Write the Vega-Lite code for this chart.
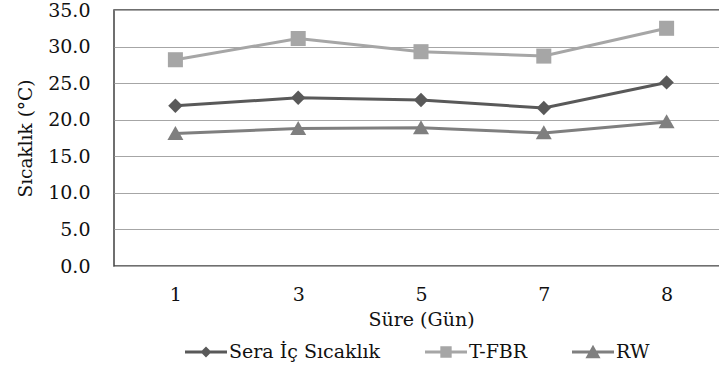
{
  "$schema": "https://vega.github.io/schema/vega-lite/v6.json",
  "width": 614,
  "height": 256,
  "autosize": {"type": "none"},
  "padding": {"left": 114, "top": 10, "right": -9, "bottom": 106},
  "background": "white",
  "config": {
    "font": "DejaVu Serif",
    "view": {"stroke": "#404040", "strokeWidth": 1.5}
  },
  "data": {
    "values": [
      {"gun": "1", "seri": "Sera İç Sıcaklık", "sicaklik": 21.9},
      {"gun": "3", "seri": "Sera İç Sıcaklık", "sicaklik": 23.0},
      {"gun": "5", "seri": "Sera İç Sıcaklık", "sicaklik": 22.7},
      {"gun": "7", "seri": "Sera İç Sıcaklık", "sicaklik": 21.6},
      {"gun": "8", "seri": "Sera İç Sıcaklık", "sicaklik": 25.1},
      {"gun": "1", "seri": "T-FBR", "sicaklik": 28.2},
      {"gun": "3", "seri": "T-FBR", "sicaklik": 31.1},
      {"gun": "5", "seri": "T-FBR", "sicaklik": 29.3},
      {"gun": "7", "seri": "T-FBR", "sicaklik": 28.7},
      {"gun": "8", "seri": "T-FBR", "sicaklik": 32.5},
      {"gun": "1", "seri": "RW", "sicaklik": 18.1},
      {"gun": "3", "seri": "RW", "sicaklik": 18.8},
      {"gun": "5", "seri": "RW", "sicaklik": 18.9},
      {"gun": "7", "seri": "RW", "sicaklik": 18.2},
      {"gun": "8", "seri": "RW", "sicaklik": 19.7}
    ]
  },
  "encoding": {
    "x": {
      "field": "gun",
      "type": "ordinal",
      "sort": ["1", "3", "5", "7", "8"],
      "scale": {"padding": 0.5},
      "axis": {
        "title": "Süre (Gün)",
        "labelAngle": 0,
        "ticks": false,
        "domain": false,
        "labelFontSize": 19,
        "labelPadding": 19,
        "labelColor": "#111111",
        "titleFontSize": 19,
        "titleFontWeight": "normal",
        "titleColor": "#111111",
        "titlePadding": 6
      }
    },
    "y": {
      "field": "sicaklik",
      "type": "quantitative",
      "scale": {"domain": [0, 35]},
      "axis": {
        "title": "Sıcaklık (°C)",
        "values": [0, 5, 10, 15, 20, 25, 30, 35],
        "format": ".1f",
        "ticks": false,
        "domain": false,
        "gridColor": "#a6a6a6",
        "gridWidth": 1,
        "labelFontSize": 19,
        "labelPadding": 24,
        "labelColor": "#111111",
        "titleFontSize": 18.5,
        "titleFontWeight": "normal",
        "titleColor": "#111111",
        "titlePadding": 12
      }
    },
    "color": {
      "field": "seri",
      "type": "nominal",
      "scale": {
        "domain": ["Sera İç Sıcaklık", "T-FBR", "RW"],
        "range": ["#595959", "#a6a6a6", "#7f7f7f"]
      },
      "legend": {
        "title": null,
        "orient": "none",
        "legendX": 71,
        "legendY": 321,
        "direction": "horizontal",
        "padding": 0,
        "symbolSize": 1764,
        "labelFontSize": 19,
        "labelColor": "#111111",
        "labelOffset": 2,
        "columnPadding": 44,
        "encode": {
          "symbols": {
            "update": {
              "shape": {"signal": "datum.value === 'T-FBR' ? 'M-1,-0.07H1V0.07H-1Z M-0.27,-0.27H0.27V0.27H-0.27Z' : datum.value === 'RW' ? 'M-1,-0.07H1V0.07H-1Z M0,-0.34L0.36,0.3L-0.36,0.3Z' : 'M-1,-0.07H1V0.07H-1Z M0,-0.26L0.26,0L0,0.26L-0.26,0Z'"},
              "fill": {"scale": "color", "field": "value"},
              "stroke": {"value": "transparent"},
              "strokeWidth": {"value": 0},
              "opacity": {"value": 1}
            }
          }
        }
      }
    }
  },
  "layer": [
    {"mark": {"type": "line", "strokeWidth": 3}},
    {
      "transform": [{"filter": "datum.seri === 'Sera İç Sıcaklık'"}],
      "mark": {"type": "point", "filled": true, "opacity": 1, "size": 256, "shape": "M0,-0.9L0.9,0L0,0.9L-0.9,0Z"}
    },
    {
      "transform": [{"filter": "datum.seri === 'T-FBR'"}],
      "mark": {"type": "point", "filled": true, "opacity": 1, "size": 256, "shape": "M-0.94,-0.94H0.94V0.94H-0.94Z"}
    },
    {
      "transform": [{"filter": "datum.seri === 'RW'"}],
      "mark": {"type": "point", "filled": true, "opacity": 1, "size": 256, "shape": "M0,-0.95L1,0.8L-1,0.8Z"}
    }
  ]
}
